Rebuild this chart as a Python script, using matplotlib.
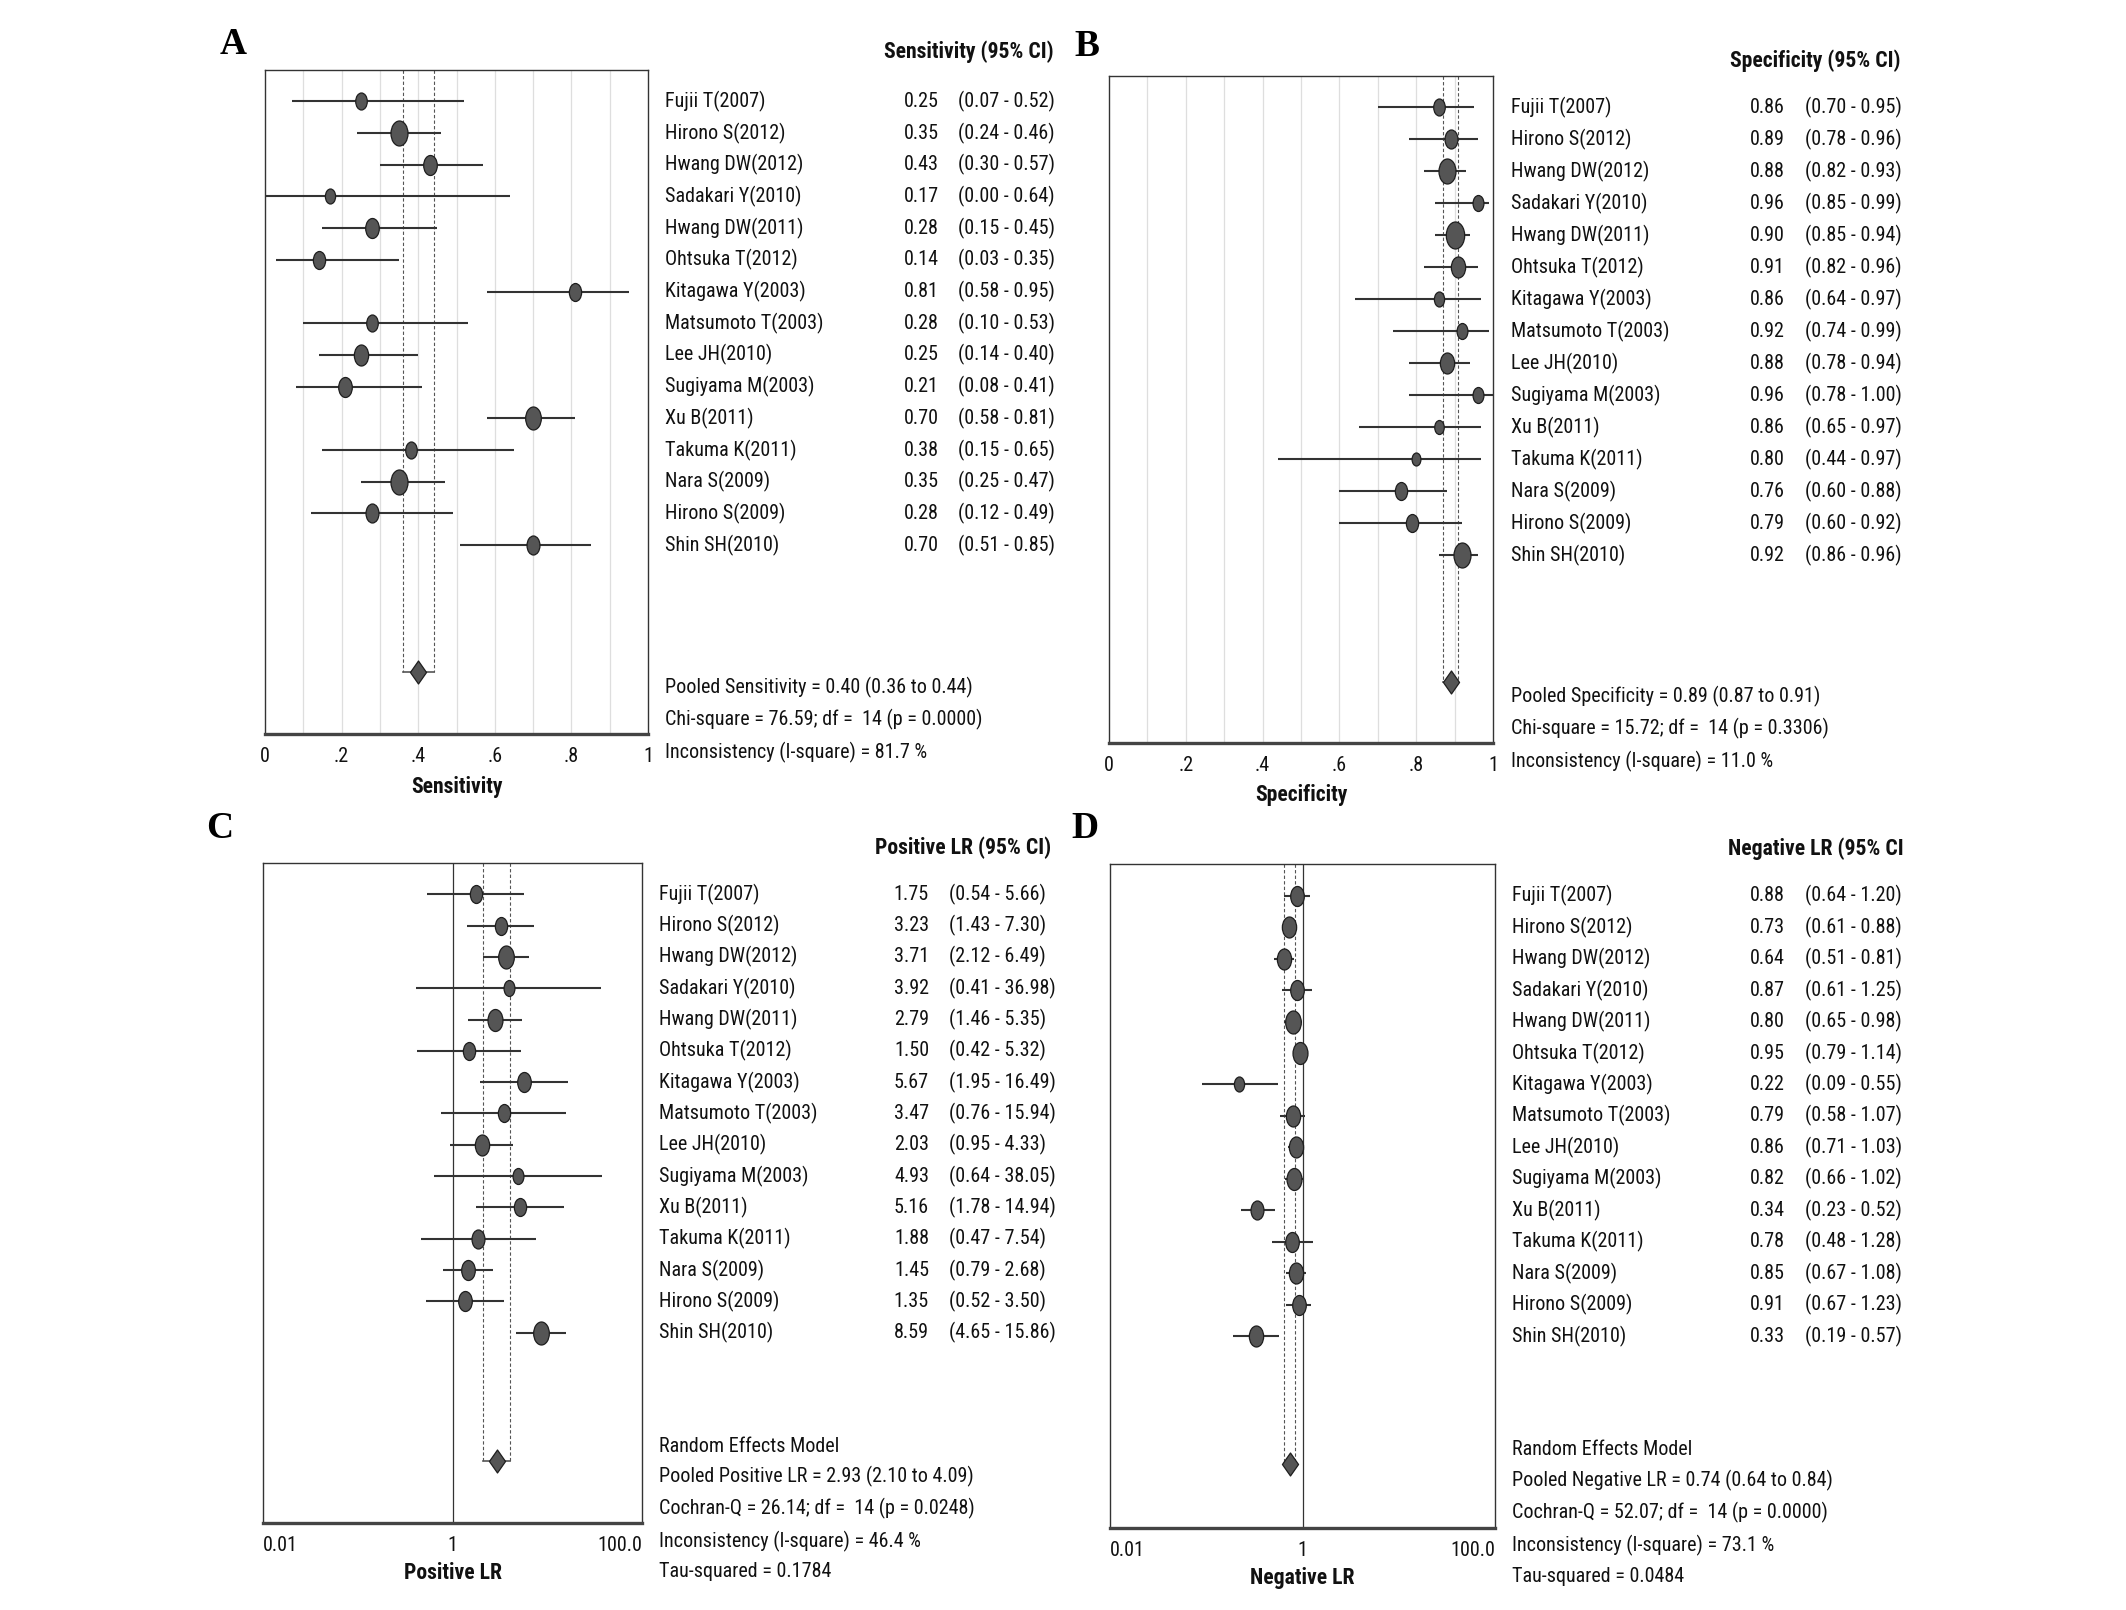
import numpy as np
import matplotlib
matplotlib.use('Agg')
import matplotlib.pyplot as plt
from matplotlib import font_manager as fm
from matplotlib.path import Path
from matplotlib.transforms import blended_transform_factory
from matplotlib.ticker import FixedLocator, NullLocator, FixedFormatter

# ---------------- data ----------------
studies = ["Fujii T(2007)", "Hirono S(2012)", "Hwang DW(2012)", "Sadakari Y(2010)",
           "Hwang DW(2011)", "Ohtsuka T(2012)", "Kitagawa Y(2003)", "Matsumoto T(2003)",
           "Lee JH(2010)", "Sugiyama M(2003)", "Xu B(2011)", "Takuma K(2011)",
           "Nara S(2009)", "Hirono S(2009)", "Shin SH(2010)"]

sens    = [0.25, 0.35, 0.43, 0.17, 0.28, 0.14, 0.81, 0.28, 0.25, 0.21, 0.70, 0.38, 0.35, 0.28, 0.70]
sens_lo = [0.07, 0.24, 0.30, 0.00, 0.15, 0.03, 0.58, 0.10, 0.14, 0.08, 0.58, 0.15, 0.25, 0.12, 0.51]
sens_hi = [0.52, 0.46, 0.57, 0.64, 0.45, 0.35, 0.95, 0.53, 0.40, 0.41, 0.81, 0.65, 0.47, 0.49, 0.85]
sens_w  = [17, 25, 20, 15, 20, 18, 18, 17, 21, 20, 23, 17, 25, 19, 19]

spec    = [0.86, 0.89, 0.88, 0.96, 0.90, 0.91, 0.86, 0.92, 0.88, 0.96, 0.86, 0.80, 0.76, 0.79, 0.92]
spec_lo = [0.70, 0.78, 0.82, 0.85, 0.85, 0.82, 0.64, 0.74, 0.78, 0.78, 0.65, 0.44, 0.60, 0.60, 0.86]
spec_hi = [0.95, 0.96, 0.93, 0.99, 0.94, 0.96, 0.97, 0.99, 0.94, 1.00, 0.97, 0.97, 0.88, 0.92, 0.96]
spec_w  = [17, 19, 25, 16, 27, 21, 15, 16, 21, 16, 14, 13, 18, 18, 25]

plr    = [1.75, 3.23, 3.71, 3.92, 2.79, 1.50, 5.67, 3.47, 2.03, 4.93, 5.16, 1.88, 1.45, 1.35, 8.59]
plr_lo = [0.54, 1.43, 2.12, 0.41, 1.46, 0.42, 1.95, 0.76, 0.95, 0.64, 1.78, 0.47, 0.79, 0.52, 4.65]
plr_hi = [5.66, 7.30, 6.49, 36.98, 5.35, 5.32, 16.49, 15.94, 4.33, 38.05, 14.94, 7.54, 2.68, 3.50, 15.86]
plr_w  = [18, 18, 23, 16, 22, 18, 20, 18, 21, 16, 18, 19, 20, 20, 23]

nlr    = [0.88, 0.73, 0.64, 0.87, 0.80, 0.95, 0.22, 0.79, 0.86, 0.82, 0.34, 0.78, 0.85, 0.91, 0.33]
nlr_lo = [0.64, 0.61, 0.51, 0.61, 0.65, 0.79, 0.09, 0.58, 0.71, 0.66, 0.23, 0.48, 0.67, 0.67, 0.19]
nlr_hi = [1.20, 0.88, 0.81, 1.25, 0.98, 1.14, 0.55, 1.07, 1.03, 1.02, 0.52, 1.28, 1.08, 1.23, 0.57]
nlr_w  = [20, 21, 21, 20, 23, 22, 15, 21, 21, 22, 19, 20, 21, 20, 21]

pooled_sens = (0.40, 0.36, 0.44)
pooled_spec = (0.89, 0.87, 0.91)
pooled_plr  = (2.93, 2.10, 4.09)
pooled_nlr  = (0.74, 0.64, 0.84)

stats_A = ["Pooled Sensitivity = 0.40 (0.36 to 0.44)",
           "Chi-square = 76.59; df =  14 (p = 0.0000)",
           "Inconsistency (I-square) = 81.7 %"]
stats_B = ["Pooled Specificity = 0.89 (0.87 to 0.91)",
           "Chi-square = 15.72; df =  14 (p = 0.3306)",
           "Inconsistency (I-square) = 11.0 %"]
stats_C = ["Random Effects Model",
           "Pooled Positive LR = 2.93 (2.10 to 4.09)",
           "Cochran-Q = 26.14; df =  14 (p = 0.0248)",
           "Inconsistency (I-square) = 46.4 %",
           "Tau-squared = 0.1784"]
stats_D = ["Random Effects Model",
           "Pooled Negative LR = 0.74 (0.64 to 0.84)",
           "Cochran-Q = 52.07; df =  14 (p = 0.0000)",
           "Inconsistency (I-square) = 73.1 %",
           "Tau-squared = 0.0484"]

lin_ticks = [0, 0.2, 0.4, 0.6, 0.8, 1.0]
lin_ticklabels = ["0", ".2", ".4", ".6", ".8", "1"]
log_ticks = [0.01, 1, 100]
log_ticklabels = ["0.01", "1", "100.0"]

# ---------------- fonts ----------------
avail = {f.name for f in fm.fontManager.ttflist}
SANS = [f for f in ['Roboto Condensed', 'PT Sans Narrow', 'Liberation Sans'] if f in avail] + ['DejaVu Sans']
SERIF = [f for f in ['Liberation Serif', 'DejaVu Serif'] if f in avail] or ['DejaVu Serif']
plt.rcParams['font.family'] = SANS
FW = 'normal'

W, H, DPI = 2126, 1610, 100
fig = plt.figure(figsize=(W / DPI, H / DPI), dpi=DPI)
fig.patch.set_facecolor('white')

# size the text so that a study name has the reference's width (about 100 px)
_r = fig.canvas.get_renderer()
_t = fig.text(0, 0, "Fujii T(2007)", fontsize=20, fontweight=FW)
_w = _t.get_window_extent(_r).width
_t.remove()
FS = 20 * 101.0 / _w
_t = fig.text(0, 0, "Sensitivity (95% CI)", fontsize=20, fontweight='bold')
_wb = _t.get_window_extent(_r).width
_t.remove()
FSB = 20 * 169.0 / _wb


def rect(x0, y0, x1, y1):
    return [x0 / W, 1 - y1 / H, (x1 - x0) / W, (y1 - y0) / H]


ell = Path.unit_circle()
ell = Path(ell.vertices * np.array([0.68, 1.0]), ell.codes)
diamond = Path([(0, -0.5), (0.35, 0), (0, 0.5), (-0.35, 0), (0, -0.5)],
               [Path.MOVETO, Path.LINETO, Path.LINETO, Path.LINETO, Path.CLOSEPOLY])

PT = 72.0 / DPI
MFC = '#555555'
LC = '#333333'
TC = '#111111'


def panel(box, ylim, diam_y, vals, lo, hi, wts, pooled, logx, header, header_y,
          cols, stats, stats_y, xlabel, letter, letter_xy):
    ax = fig.add_axes(rect(*box))
    ax.set_ylim(ylim[1], ylim[0])
    if logx:
        ax.set_xscale('log')
        ax.set_xlim(0.01, 100)
        ax.xaxis.set_major_locator(FixedLocator(log_ticks))
        ax.xaxis.set_major_formatter(FixedFormatter(log_ticklabels))
        ax.xaxis.set_minor_locator(NullLocator())
        ax.axvline(1, color='#333333', lw=0.9, zorder=1)
    else:
        ax.set_xlim(0, 1)
        ax.xaxis.set_major_locator(FixedLocator(lin_ticks))
        ax.xaxis.set_major_formatter(FixedFormatter(lin_ticklabels))
        for g in np.arange(1, 10) / 10:
            ax.axvline(g, color='#dedede', lw=0.9, zorder=0)
    ax.set_yticks([])
    ax.tick_params(axis='x', length=0, pad=9, labelsize=FS, labelcolor=TC)
    if logx:
        tl = ax.get_xticklabels()
        tl[0].set_ha('left')
        tl[-1].set_ha('right')
    for s in ['top', 'left', 'right']:
        ax.spines[s].set_color('#333333')
        ax.spines[s].set_linewidth(1.0)
    ax.spines['bottom'].set_color('#444444')
    ax.spines['bottom'].set_linewidth(2.4)

    ys = np.arange(len(vals))
    for y, v, l, h, w in zip(ys, vals, lo, hi, wts):
        ax.plot([l, h], [y, y], color=LC, lw=1.5, solid_capstyle='butt', zorder=3)
        ax.plot(v, y, marker=ell, ms=w * PT, mfc=MFC, mec='#1e1e1e', mew=0.9,
                zorder=4, linestyle='none')
    p, pl, ph = pooled
    ax.plot([pl, pl], [ylim[0], diam_y], color='#555555', lw=0.8, ls=(0, (3, 2)), zorder=2)
    ax.plot([ph, ph], [ylim[0], diam_y], color='#555555', lw=0.8, ls=(0, (3, 2)), zorder=2)
    ax.plot([pl, ph], [diam_y, diam_y], color='#555555', lw=1.2, zorder=2)
    ax.plot(p, diam_y, marker=diamond, ms=23 * PT, mfc=MFC, mec='#1e1e1e', mew=0.9,
            zorder=4, linestyle='none')

    tr = blended_transform_factory(fig.transFigure, ax.transData)
    xn, xv, xc, xh = cols
    kw = dict(transform=tr, va='center', fontsize=FS, fontweight=FW, color=TC, clip_on=False)
    for y, name, v, l, h in zip(ys, studies, vals, lo, hi):
        ax.text(xn / W, y, name, ha='left', **kw)
        ax.text(xv / W, y, f"{v:.2f}", ha='right', **kw)
        ax.text(xc / W, y, f"({l:.2f} - {h:.2f})", ha='left', **kw)
    ax.text(xh / W, header_y, header, transform=tr, ha='right', va='center',
            fontsize=FSB, fontweight='bold', color=TC, clip_on=False)
    for y, s in zip(stats_y, stats):
        ax.text(xn / W, y, s, ha='left', **kw)
    cx = (box[0] + box[2]) / 2
    fig.text(cx / W, 1 - xlabel[1] / H, xlabel[0], ha='center', va='center',
             fontsize=FSB, fontweight='bold', color=TC)
    fig.text(letter_xy[0] / W, 1 - letter_xy[1] / H, letter, ha='left', va='center',
             fontsize=27, fontweight='bold', family=SERIF, color='#000000')
    return ax


panel((265, 70, 648, 734), (-0.99, 19.96), 18.0, sens, sens_lo, sens_hi, sens_w,
      pooled_sens, False, "Sensitivity (95% CI)", -1.56, (665, 939, 958, 1054),
      stats_A, [18.5, 19.5, 20.55], ("Sensitivity", 787), "A", (220, 45))

panel((1109, 76, 1493, 743), (-0.98, 19.86), 17.94, spec, spec_lo, spec_hi, spec_w,
      pooled_spec, False, "Specificity (95% CI)", -1.45, (1511, 1785, 1805, 1900),
      stats_B, [18.4, 19.4, 20.45], ("Specificity", 795), "B", (1074, 46))

panel((263, 863, 642, 1523), (-1.0, 20.08), 18.09, plr, plr_lo, plr_hi, plr_w,
      pooled_plr, True, "Positive LR (95% CI)", -1.5, (659, 929, 949, 1051),
      stats_C, [17.64, 18.6, 19.62, 20.66, 21.64], ("Positive LR", 1573), "C", (206, 828))

panel((1110, 864, 1495, 1528), (-1.01, 20.1), 18.08, nlr, nlr_lo, nlr_hi, nlr_w,
      pooled_nlr, True, "Negative LR (95% CI", -1.5, (1512, 1785, 1805, 1904),
      stats_D, [17.6, 18.6, 19.6, 20.66, 21.65], ("Negative LR", 1578), "D", (1071, 828))

fig.savefig('out.png', dpi=DPI, facecolor='white')
